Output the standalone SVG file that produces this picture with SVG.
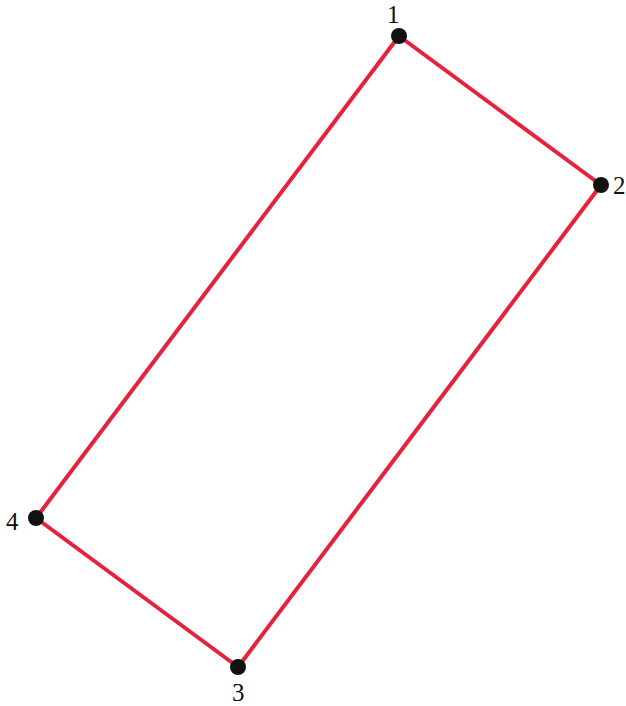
<svg xmlns="http://www.w3.org/2000/svg" width="626" height="706" viewBox="0 0 626 706">
<style>
.edge{stroke:#e8213b;stroke-width:4;fill:none;stroke-linecap:round}
.pt{fill:#111}
.lbl{font-family:"Liberation Serif","Times New Roman",serif;font-size:25px;fill:#111}
</style>
<rect width="626" height="706" fill="#fff"/>
<g id="connectors">
<line class="edge" x1="399" y1="36" x2="601" y2="185"/>
<line class="edge" x1="601" y1="185" x2="238" y2="667"/>
<line class="edge" x1="238" y1="667" x2="36" y2="518"/>
<line class="edge" x1="36" y1="518" x2="399" y2="36"/>
</g>
<g id="node1"><circle class="pt" cx="399" cy="36" r="8"/><text class="lbl" x="387" y="23">1</text></g>
<g id="node2"><circle class="pt" cx="601" cy="185" r="8"/><text class="lbl" x="613" y="194">2</text></g>
<g id="node3"><circle class="pt" cx="238" cy="667" r="8"/><text class="lbl" x="232" y="701">3</text></g>
<g id="node4"><circle class="pt" cx="36" cy="518" r="8"/><text class="lbl" x="6" y="530">4</text></g>
</svg>
